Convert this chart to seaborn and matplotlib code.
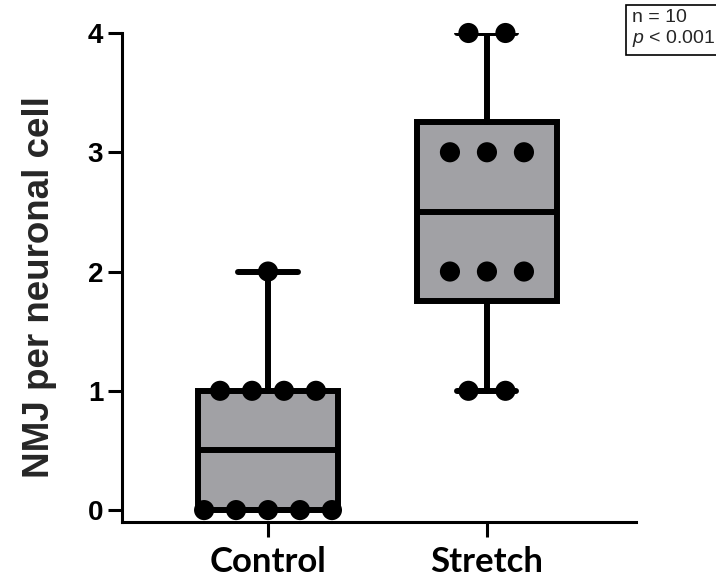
import numpy as np
import pandas as pd
import matplotlib
matplotlib.use("Agg")
import matplotlib.pyplot as plt
import seaborn as sns

# Data
groups = ["Control", "Stretch"]
control_vals = [0, 0, 0, 0, 0, 1, 1, 1, 1, 2]
stretch_vals = [1, 1, 2, 2, 2, 3, 3, 3, 4, 4]
y_ticks = [0, 1, 2, 3, 4]
y_label = "NMJ per neuronal cell"
stats_lines = ["n = 10", "$\\mathit{p}$ < 0.001"]

sns.set_style("ticks")
plt.rcParams["font.family"] = ["Liberation Sans", "DejaVu Sans"]
plt.rcParams["mathtext.fontset"] = "custom"
plt.rcParams["mathtext.it"] = "Liberation Sans:italic"
plt.rcParams["mathtext.rm"] = "Liberation Sans"

df = pd.DataFrame({
    "group": np.repeat(groups, [len(control_vals), len(stretch_vals)]),
    "value": control_vals + stretch_vals,
})

# spread tied values horizontally, centred on each group's position
spread = {"Control": 0.146, "Stretch": 0.169}
pos = {g: i for i, g in enumerate(groups)}
df["rank"] = df.groupby(["group", "value"]).cumcount()
df["count"] = df.groupby(["group", "value"])["value"].transform("size")
df["x"] = df["group"].map(pos) + (df["rank"] - (df["count"] - 1) / 2) * df["group"].map(spread)

fig = plt.figure(figsize=(7.16, 5.86), dpi=100)
ax = fig.add_axes([0.1704, 0.1092, 0.888 - 0.1704, 0.9437 - 0.1092])

# box statistics (quartiles with the (n+1)p rule, whiskers min to max)
box_stats = []
for g in groups:
    v = df.loc[df["group"] == g, "value"].to_numpy(dtype=float)
    q1, med, q3 = np.percentile(v, [25, 50, 75], method="weibull")
    box_stats.append(dict(med=med, q1=q1, q3=q3, whislo=v.min(), whishi=v.max(),
                          fliers=[], label=g))

lw = 4.3
ax.bxp(box_stats, positions=[pos[g] for g in groups], widths=0.64, capwidths=0.27,
       patch_artist=True, showfliers=False,
       boxprops=dict(facecolor="#a1a1a5", edgecolor="black", linewidth=lw),
       whiskerprops=dict(color="black", linewidth=lw),
       capprops=dict(color="black", linewidth=lw),
       medianprops=dict(color="black", linewidth=lw))

sns.scatterplot(data=df, x="x", y="value", s=210, color="black", edgecolor="none",
                zorder=4, ax=ax, legend=False, clip_on=False)

ax.set_xlim(-0.667, 1.68)
ax.set_ylim(-0.1, 4)
ax.set_yticks(y_ticks)
ax.set_yticklabels([str(t) for t in y_ticks], fontsize=20, fontweight="bold",
                   family="Liberation Sans")
ax.set_xticks([pos[g] for g in groups])
ax.set_xticklabels(groups, fontsize=25, fontweight="bold", family="Lato")
ax.set_xlabel("")
ax.set_ylabel(y_label, fontsize=26.5, fontweight="bold", labelpad=22)
ax.yaxis.label.set_y(0.48)

sns.despine(ax=ax)
for s in ["left", "bottom"]:
    ax.spines[s].set_linewidth(2.2)
    ax.spines[s].set_color("black")
ax.tick_params(axis="y", length=10, width=2.2, pad=3.5, colors="black")
ax.tick_params(axis="x", length=11, width=2.2, pad=6, colors="black")

fig.text(0.882, 0.985, "\n".join(stats_lines), ha="left", va="top", fontsize=14,
         linespacing=1.15,
         bbox=dict(boxstyle="square,pad=0.3", facecolor="white", edgecolor="black",
                   linewidth=1.2))

fig.savefig("out.png", dpi=100, facecolor="white")
